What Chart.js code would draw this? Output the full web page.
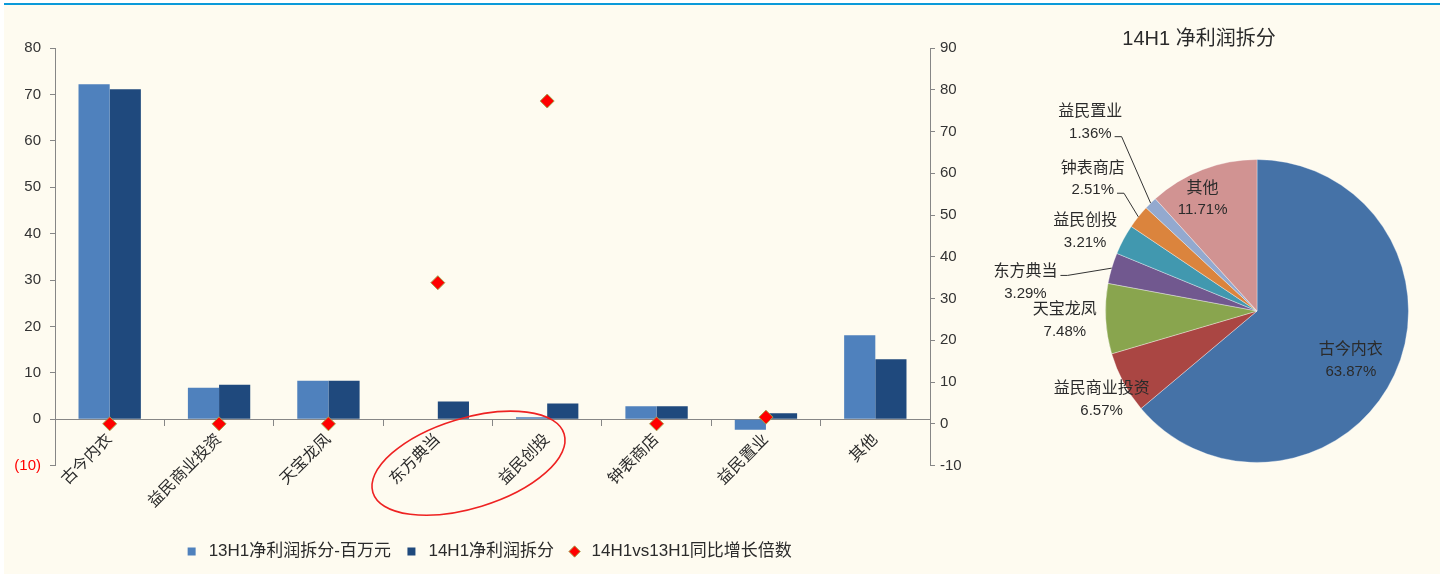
<!DOCTYPE html>
<html>
<head>
<meta charset="utf-8">
<script src="https://cdn.jsdelivr.net/npm/chart.js@4.4.1/dist/chart.umd.min.js"></script>
<style>
  html, body { margin: 0; padding: 0; background: #ffffff; }
  body { width: 1448px; height: 574px; position: relative; overflow: hidden; }
  #frame {
    position: absolute; left: 4px; top: 3px; width: 1436px; height: 569px;
    border-top: 2px solid #0b9ad9; background: #fefbf0;
  }
  #barBox { position: absolute; left: 0; top: 0; width: 975px; height: 574px; }
  #pieBox { position: absolute; left: 960px; top: 0; width: 488px; height: 574px; }
</style>
</head>
<body>
<div id="frame"></div>
<div id="barBox"><canvas id="barChart"></canvas></div>
<div id="pieBox"><canvas id="pieChart"></canvas></div>
<script>
// data
const categories = ["古今内衣", "益民商业投资", "天宝龙凤", "东方典当", "益民创投", "钟表商店", "益民置业", "其他"];
const profit13H1 = [72.2, 6.8, 8.3, 0, 0.4, 2.8, -2.3, 18.1];
const profit14H1 = [71.1, 7.4, 8.3, 3.8, 3.4, 2.8, 1.3, 12.9];
const growthMultiple = [0, 0, 0, 33.8, 77.3, 0, 1.6, null];

const leftTicks = { min: -10, max: 80, step: 10 };
const rightTicks = { min: -10, max: 90, step: 10 };

const pieTitle = "14H1 净利润拆分";
const pieNames = ["古今内衣", "益民商业投资", "天宝龙凤", "东方典当", "益民创投", "钟表商店", "益民置业", "其他"];
const pieShares = [63.87, 6.57, 7.48, 3.29, 3.21, 2.51, 1.36, 11.71];

const seriesNames = ["13H1净利润拆分-百万元", "14H1净利润拆分", "14H1vs13H1同比增长倍数"];

// styles
const pieColors = ["#4572a7", "#aa4643", "#89a54e", "#71588f", "#4198af", "#db843d", "#93a9cf", "#d19392"];
const labelRadius = [0.70, 1.18, 1.27, 1.54, 1.25, 1.39, 1.66, 0.82];
const labelShift = [2.8, -1.4, 0, -9.4, -3.3, 0.3, 3.1, -4.9];
const labelLeader = [null, null, null, "name", null, "pct", "pct", null];

const cjk = "'Liberation Sans', 'Noto Sans CJK SC', sans-serif";
const textColor = "#2b2b2b";
const axisColor = "#868686";

const ellipsePlugin = {
  id: "ellipse",
  afterDatasetsDraw(chart) {
    const { ctx, scales } = chart;
    const cx = (scales.x.getPixelForValue(3) + scales.x.getPixelForValue(4)) / 2 - 24;
    const cy = scales.y.getPixelForValue(0) + 44;
    ctx.save();
    ctx.strokeStyle = "#ee2222";
    ctx.lineWidth = 1.6;
    ctx.beginPath();
    ctx.ellipse(cx, cy, 100, 45, -17 * Math.PI / 180, 0, Math.PI * 2);
    ctx.stroke();
    ctx.restore();
  }
};

new Chart(document.getElementById("barChart"), {
  type: "bar",
  data: {
    labels: categories,
    datasets: [
      {
        label: seriesNames[0],
        data: profit13H1,
        backgroundColor: "#4f81bd",
        pointStyle: "rect",
        yAxisID: "y",
        categoryPercentage: 0.57,
        barPercentage: 1
      },
      {
        label: seriesNames[1],
        data: profit14H1,
        backgroundColor: "#1f497d",
        pointStyle: "rect",
        yAxisID: "y",
        categoryPercentage: 0.57,
        barPercentage: 1
      },
      {
        type: "line",
        label: seriesNames[2],
        data: growthMultiple,
        yAxisID: "y1",
        showLine: false,
        order: -1,
        pointStyle: "rectRot",
        pointRadius: 7,
        pointBackgroundColor: "#ff0000",
        pointBorderColor: "#a3a24e",
        pointBorderWidth: 1,
        backgroundColor: "#ff0000",
        borderColor: "#a3a24e"
      }
    ]
  },
  options: {
    responsive: true,
    maintainAspectRatio: false,
    animation: false,
    layout: { padding: { top: 48, left: 0, right: 0, bottom: 4 } },
    plugins: {
      tooltip: { enabled: false },
      legend: {
        position: "bottom",
        // empty title only keeps the gap under the axis labels
        title: { display: true, text: "", font: { size: 12 }, padding: { top: 0, bottom: 51 } },
        labels: {
          usePointStyle: true,
          boxHeight: 8,
          padding: 12,
          color: textColor,
          font: { family: cjk, size: 17 },
          sort: (a, b) => a.datasetIndex - b.datasetIndex
        }
      }
    },
    scales: {
      x: {
        position: { y: 0 },
        offset: true,
        grid: { offset: true, drawOnChartArea: false, color: axisColor, tickLength: 6 },
        border: { color: axisColor },
        ticks: {
          minRotation: 45,
          maxRotation: 45,
          padding: 5,
          color: textColor,
          font: { family: cjk, size: 16 }
        }
      },
      y: {
        position: "left",
        min: leftTicks.min,
        max: leftTicks.max,
        grid: { drawOnChartArea: false, color: axisColor, tickLength: 5 },
        border: { color: axisColor },
        ticks: {
          stepSize: leftTicks.step,
          padding: 9,
          font: { family: "'Liberation Sans', sans-serif", size: 15 },
          color: (c) => (c.tick.value < 0 ? "#ff0000" : "#333333"),
          callback: (v) => (v < 0 ? "(" + (-v) + ")" : v)
        },
        afterFit: (s) => { s.width = 55; }
      },
      y1: {
        position: "right",
        min: rightTicks.min,
        max: rightTicks.max,
        grid: { drawOnChartArea: false, color: axisColor, tickLength: 5 },
        border: { color: axisColor },
        ticks: {
          stepSize: rightTicks.step,
          padding: 5,
          color: "#333333",
          font: { family: "'Liberation Sans', sans-serif", size: 15 }
        },
        afterFit: (s) => { s.width = 45; }
      }
    }
  },
  plugins: [ellipsePlugin]
});

const pieLabelPlugin = {
  id: "pieLabels",
  afterDraw(chart) {
    const { ctx } = chart;
    const arcs = chart.getDatasetMeta(0).data;
    ctx.save();
    // title
    ctx.fillStyle = textColor;
    ctx.font = "20px " + cjk;
    ctx.textAlign = "center";
    ctx.textBaseline = "middle";
    ctx.fillText(pieTitle, 239, 39);

    arcs.forEach((arc, i) => {
      const mid = (arc.startAngle + arc.endAngle) / 2;
      const ang = mid + labelShift[i] * Math.PI / 180;
      const r = arc.outerRadius * labelRadius[i];
      const lx = arc.x + Math.cos(ang) * r;
      const ly = arc.y + Math.sin(ang) * r;
      const pct = pieShares[i].toFixed(2) + "%";
      ctx.fillStyle = textColor;
      ctx.textAlign = "center";
      ctx.font = "16px " + cjk;
      const nameW = ctx.measureText(pieNames[i]).width;
      ctx.fillText(pieNames[i], lx, ly - 11);
      ctx.font = "15px 'Liberation Sans', sans-serif";
      const pctW = ctx.measureText(pct).width;
      ctx.fillText(pct, lx, ly + 11);

      if (labelLeader[i]) {
        const sx = labelLeader[i] === "name" ? lx + nameW / 2 + 3 : lx + pctW / 2 + 3;
        const sy = labelLeader[i] === "name" ? ly - 7 : ly + 14;
        const ex = arc.x + Math.cos(mid) * arc.outerRadius;
        const ey = arc.y + Math.sin(mid) * arc.outerRadius;
        ctx.strokeStyle = "#333333";
        ctx.lineWidth = 1;
        ctx.beginPath();
        ctx.moveTo(sx, sy);
        ctx.lineTo(sx + 7, sy);
        ctx.lineTo(ex, ey);
        ctx.stroke();
      }
    });
    ctx.restore();
  }
};

new Chart(document.getElementById("pieChart"), {
  type: "pie",
  data: {
    labels: pieNames,
    datasets: [{
      data: pieShares,
      backgroundColor: pieColors,
      borderColor: "rgba(255,255,255,0.35)",
      borderWidth: 1
    }]
  },
  options: {
    responsive: true,
    maintainAspectRatio: false,
    animation: false,
    layout: { padding: { left: 145, right: 39, top: 159, bottom: 111 } },
    plugins: {
      legend: { display: false },
      tooltip: { enabled: false }
    }
  },
  plugins: [pieLabelPlugin]
});
</script>
</body>
</html>
